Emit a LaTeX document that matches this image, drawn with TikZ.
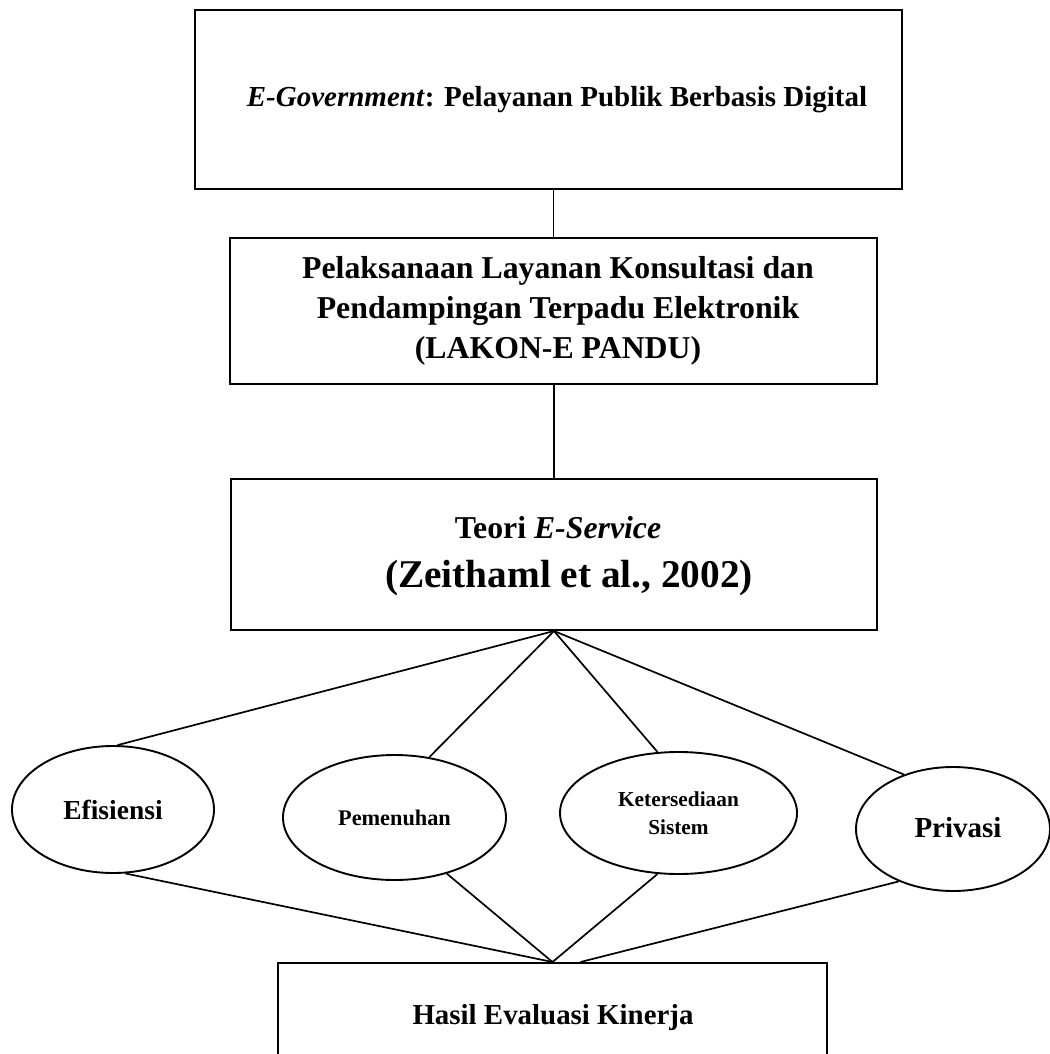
\documentclass[tikz,border=0pt]{standalone}
\usepackage{fontspec}
\setmainfont{Liberation Serif}
\usetikzlibrary{shapes.geometric}
\begin{document}
\begin{tikzpicture}[x=1pt,y=-1pt,
  box/.style={draw=black,line width=2pt,rectangle,inner sep=0pt,align=center,font=\bfseries},
  oval/.style={draw=black,line width=1.9pt,ellipse,inner sep=0pt,align=center,font=\bfseries},
  link/.style={draw=black,line width=1.7pt},
  lbl/.style={inner sep=0pt,align=center,font=\bfseries}]
\fill[white] (0,0) rectangle (1049,1054);
\useasboundingbox (0,0) rectangle (1049,1054);

\node[box,minimum width=707pt,minimum height=179pt] (b1) at (548.5,99.5) {};
\node[lbl,font={\fontsize{29}{35}\selectfont\bfseries}] (t1) at (557,100)
  {\textit{E-Government}: Pelayanan Publik Berbasis Digital};
\node[box,minimum width=647pt,minimum height=146pt] (b2) at (553.5,311) {};
\node[lbl,font={\fontsize{31.8}{40}\selectfont\bfseries}] (t2) at (558,311)
  {Pelaksanaan Layanan Konsultasi dan\\Pendampingan Terpadu Elektronik\\(LAKON-E PANDU)};
\node[box,minimum width=646pt,minimum height=151pt] (b3) at (554,554.5) {};
\node[lbl,font={\fontsize{31.8}{37}\selectfont\bfseries}] (t3a) at (558,528) {Teori \textit{E-Service}};
\node[lbl,font={\fontsize{39.3}{46}\selectfont\bfseries}] (t3b) at (569,578) {(Zeithaml et al., 2002)};
\node[box,minimum width=549pt,minimum height=107pt] (hasil) at (552.5,1016.5) {};
\node[lbl,font={\fontsize{28.9}{34}\selectfont\bfseries}] (th) at (553,1018) {Hasil Evaluasi Kinerja};

\node[oval,minimum width=202pt,minimum height=127pt,font={\fontsize{27.5}{32}\selectfont\bfseries}] (ef) at (113,809.5) {Efisiensi};
\node[oval,minimum width=223pt,minimum height=125pt,font={\fontsize{22.3}{27}\selectfont\bfseries}] (pm) at (394.5,817.5) {Pemenuhan};
\node[oval,minimum width=237pt,minimum height=122pt,font={\fontsize{21.3}{28}\selectfont\bfseries}] (ks) at (678.5,813) {Ketersediaan\\Sistem};
\node[oval,minimum width=194pt,minimum height=124pt] (pv) at (953,829) {};
\node[lbl,font={\fontsize{29}{34}\selectfont\bfseries}] (tpv) at (958,828) {Privasi};

\coordinate (pend) at ([xshift=28pt]hasil.north);

\draw[link] (b2.north) -- (b2.north |- b1.south);
\draw[link] (b3.north) -- (b3.north |- b2.south);

\draw[link] (b3.south) -- (ef.86);
\draw[link] (b3.south) -- (pm.60);
\draw[link] (b3.south) -- (ks.109);
\draw[link] (b3.south) -- (pv.132);

\draw[link] (ef.-79) -- (hasil.north);
\draw[link] (pm.-47) -- (hasil.north);
\draw[link] (ks.-109) -- (hasil.north);
\draw[link] (pv.224) -- (pend);
\end{tikzpicture}
\end{document}
